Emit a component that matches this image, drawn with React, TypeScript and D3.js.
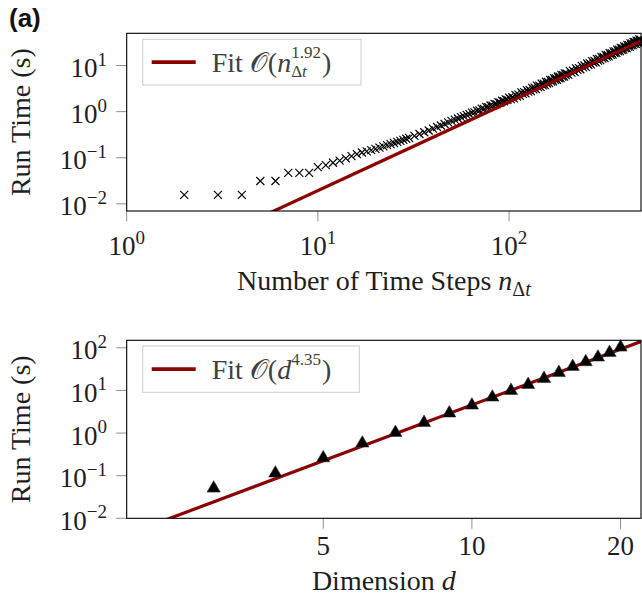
import { useEffect, useRef } from "react";
import * as d3 from "d3";

const W = 642;
const H = 602;

// ---- panel 1: run time vs number of time steps ----
const STEP_COUNTS = [
  2, 3, 4, 5, 6, 7, 8, 9, 10, 11, 12, 13, 14, 15, 16, 17, 18, 19, 20, 21, 22, 23, 24, 25, 26, 27, 28, 29, 30,
  32, 34, 36, 38, 40, 42, 44, 46, 48, 50, 52, 54, 56, 58, 60,
  62, 64, 66, 68, 70, 72, 74, 76, 78, 80, 82, 84, 86, 88, 90, 92, 94, 96, 98,
  100, 102, 104, 106, 108, 110, 112, 114, 116, 118, 120, 122, 124, 126, 128, 130, 132, 134, 136, 138,
  140, 142, 144, 146, 148, 150, 152, 154, 156, 158, 160, 162, 164, 166, 168, 170, 172, 174, 176, 178,
  180, 182, 184, 186, 188, 190, 192, 194, 196, 198, 200,
  204, 208, 212, 216, 220, 224, 228, 232, 236, 240, 244, 248, 252, 256, 260, 264, 268, 272, 276, 280,
  284, 288, 292, 296, 300, 304, 308, 312, 316, 320, 324, 328, 332, 336, 340, 344, 348, 352, 356, 360,
  364, 368, 372, 376, 380, 384, 388, 392, 396, 400, 404, 408, 412, 416, 420, 424, 428, 432, 436, 440,
  444, 448, 452, 456, 460, 464, 468, 472, 476, 480, 484, 488,
];
const STEP_TIMES = [
  0.0156, 0.0156, 0.0156, 0.0313, 0.0313, 0.0469, 0.0469, 0.0469,
  0.0625, 0.069, 0.078, 0.087, 0.097, 0.108, 0.12, 0.13, 0.137, 0.146, 0.156, 0.166, 0.176, 0.187,
  0.198, 0.209, 0.221, 0.233, 0.245, 0.258, 0.271,
  0.298, 0.327, 0.357, 0.39, 0.43, 0.465, 0.5, 0.54, 0.585, 0.63, 0.67, 0.71, 0.76, 0.8, 0.85,
  0.88, 0.95, 0.96, 1.05, 1.06, 1.16, 1.15, 1.26, 1.25, 1.36, 1.35, 1.48, 1.46, 1.6, 1.57, 1.72, 1.68,
  1.85, 1.8,
  2.01, 1.87, 2.05, 1.94, 2.3, 2.13, 2.34, 2.2, 2.61, 2.42, 2.64, 2.48, 2.94, 2.71, 2.97, 2.78, 3.29, 3.03,
  3.31, 3.1, 3.66, 3.36, 3.67, 3.43, 4.04, 3.72, 4.04, 3.77, 4.45, 4.08, 4.44, 4.14, 4.87, 4.47, 4.85,
  4.52, 5.31, 4.87, 5.28, 4.92, 5.78, 5.29, 5.74, 5.33, 6.26, 5.73, 6.2, 5.77, 6.76, 6.18, 6.69,
  6.33, 7.55, 7.02, 7.72, 7.28, 8.67, 8.04, 8.82, 8.3, 9.86, 9.13, 10.0, 9.39, 11.13, 10.28, 11.25,
  10.55, 12.48, 11.51, 12.57, 11.77, 13.9, 12.81, 13.96, 13.06, 15.4, 14.17, 15.43, 14.41, 16.98,
  15.6, 16.97, 15.83, 18.64, 17.1, 18.58, 17.32, 20.37, 18.67, 20.27, 18.88, 22.18, 20.31, 22.03,
  20.5, 24.06, 22.02, 23.86, 22.19, 26.02, 23.8, 25.77, 23.94, 28.06, 25.64, 27.75, 25.76, 30.18,
  27.56, 29.8, 27.65, 32.37, 29.54, 31.93, 29.6, 34.63, 31.59, 34.12, 31.62, 36.98, 33.71, 36.4,
];
const STEP_FIT = { coef: 0.000233, exp: 1.92, label: "1.92" };
const STEP_X_TICKS = [1, 10, 100];
const STEP_Y_TICKS = [0.01, 0.1, 1, 10];

// ---- panel 2: run time vs dimension ----
const DIMS = [3, 4, 5, 6, 7, 8, 9, 10, 11, 12, 13, 14, 15, 16, 17, 18, 19, 20];
const DIM_TIMES = [
  0.0506, 0.114, 0.26, 0.577, 1.02, 1.75, 2.92, 4.49, 6.92, 9.89, 13.7, 18.9, 26.2, 36.2, 46.7, 60.1, 77.1, 103,
];
const DIM_FIT = { coef: 0.000204, exp: 4.35, label: "4.35" };
const DIM_X_TICKS = [5, 10, 20];
const DIM_Y_TICKS = [0.01, 0.1, 1, 10, 100];

const SERIF = "'Liberation Serif', 'DejaVu Serif', serif";
const RED = "#8b0000";
const INK = "#1e1e1e";
const TICK = "#8f8f8f";

const LEFT = 126.7;
const RIGHT = 641;

type Sel = d3.Selection<any, unknown, null, undefined>;

function powLabel(g: Sel, x: number, y: number, v: number, anchor: string) {
  const e = Math.round(Math.log10(v));
  const t = g
    .append("text")
    .attr("x", x)
    .attr("y", y)
    .attr("text-anchor", anchor)
    .attr("font-size", 27)
    .attr("fill", INK);
  t.append("tspan").text("10");
  t.append("tspan")
    .attr("dy", -11.5)
    .attr("font-size", 19)
    .text(e < 0 ? "\u2212" + -e : String(e));
}

const textW = (s: Sel) => (s.node() as SVGTextContentElement).getComputedTextLength();

export default function App() {
  const ref = useRef<SVGSVGElement>(null);

  useEffect(() => {
    const svg = d3.select(ref.current);
    svg.selectAll("*").remove();
    svg.attr("font-family", SERIF);

    /* -------- (a) tag -------- */
    svg
      .append("text")
      .attr("x", 9)
      .attr("y", 27)
      .attr("font-family", "'Liberation Sans', Arial, sans-serif")
      .attr("font-weight", "bold")
      .attr("font-size", 26)
      .attr("fill", "#111")
      .text("(a)");

    const panels = [
      {
        id: "p1",
        top: 33.3,
        bottom: 211,
        x: d3.scaleLog().domain([1, 490]).range([LEFT, RIGHT]),
        y: d3.scaleLog().domain([0.007, 50]).range([211, 33.3]),
        xs: STEP_COUNTS,
        ys: STEP_TIMES,
        fit: STEP_FIT,
        fitOnTop: true,
        xTicks: STEP_X_TICKS,
        yTicks: STEP_Y_TICKS,
        logX: true,
        marker: "cross",
        legend: { x: 142.7, y: 39.3, w: 218.3, h: 45.7, sym: "n", sub: true },
        xTitle: ["Number of Time Steps ", "n", true],
        xTitleY: 290,
        xTickY: 255,
      },
      {
        id: "p2",
        top: 340.3,
        bottom: 518.3,
        x: d3.scaleLog().domain([2, 22]).range([LEFT, RIGHT]),
        y: d3.scaleLog().domain([0.01, 150]).range([518.3, 340.3]),
        xs: DIMS,
        ys: DIM_TIMES,
        fit: DIM_FIT,
        fitOnTop: false,
        xTicks: DIM_X_TICKS,
        yTicks: DIM_Y_TICKS,
        logX: false,
        marker: "tri",
        legend: { x: 142.7, y: 346, w: 216.6, h: 46.3, sym: "d", sub: false },
        xTitle: ["Dimension ", "d", false],
        xTitleY: 590,
        xTickY: 555,
      },
    ];

    panels.forEach((p) => {
      const g = svg.append("g");
      const [x0, x1] = p.x.domain();

      svg
        .append("defs")
        .append("clipPath")
        .attr("id", "clip-" + p.id)
        .append("rect")
        .attr("x", LEFT)
        .attr("y", p.top)
        .attr("width", RIGHT - LEFT)
        .attr("height", p.bottom - p.top);

      // ticks (outside, grey)
      p.yTicks.forEach((v) => {
        const yy = p.y(v);
        g.append("line")
          .attr("x1", LEFT - 10.5)
          .attr("x2", LEFT)
          .attr("y1", yy)
          .attr("y2", yy)
          .attr("stroke", TICK)
          .attr("stroke-width", 1);
        powLabel(g, 107, yy + 11.5, v, "end");
      });
      p.xTicks.forEach((v) => {
        const xx = p.x(v);
        g.append("line")
          .attr("x1", xx)
          .attr("x2", xx)
          .attr("y1", p.bottom)
          .attr("y2", p.bottom + 10.5)
          .attr("stroke", TICK)
          .attr("stroke-width", 1);
        if (p.logX) powLabel(g, xx, p.xTickY, v, "middle");
        else
          g.append("text")
            .attr("x", xx)
            .attr("y", p.xTickY)
            .attr("text-anchor", "middle")
            .attr("font-size", 27)
            .attr("fill", INK)
            .text(String(v));
      });

      // fit line + markers
      const fitY = (v: number) => p.fit.coef * Math.pow(v, p.fit.exp);
      const drawFit = () =>
        g
          .append("path")
          .attr("clip-path", `url(#clip-${p.id})`)
          .attr("d", d3.line<number>().x((v) => p.x(v)).y((v) => p.y(fitY(v)))([x0, x1]))
          .attr("fill", "none")
          .attr("stroke", RED)
          .attr("stroke-width", 3.2);

      if (!p.fitOnTop) drawFit();
      const pts = p.xs.map((v, i) => [p.x(v), p.y(p.ys[i])]);
      const mk = g.append("g");
      if (p.marker === "cross") {
        mk.selectAll("path")
          .data(pts)
          .join("path")
          .attr("transform", (d) => `translate(${d[0]},${d[1]})`)
          .attr("d", "M-4,-4L4,4M-4,4L4,-4")
          .attr("stroke", "#000")
          .attr("stroke-width", 1.15)
          .attr("fill", "none");
      } else {
        mk.selectAll("path")
          .data(pts)
          .join("path")
          .attr("transform", (d) => `translate(${d[0]},${d[1]})`)
          .attr("d", "M0,-7.6L6.6,3.8L-6.6,3.8Z")
          .attr("fill", "#000")
          .attr("stroke", "#333")
          .attr("stroke-width", 0.6);
      }
      if (p.fitOnTop) drawFit();

      // frame
      g.append("rect")
        .attr("x", LEFT)
        .attr("y", p.top)
        .attr("width", RIGHT - LEFT)
        .attr("height", p.bottom - p.top)
        .attr("fill", "none")
        .attr("stroke", "#000")
        .attr("stroke-width", 1.1);

      // legend
      const L = p.legend;
      g.append("rect")
        .attr("x", L.x)
        .attr("y", L.y)
        .attr("width", L.w)
        .attr("height", L.h)
        .attr("fill", "#fff")
        .attr("stroke", "#cccccc")
        .attr("stroke-width", 1);
      const ly = L.y + L.h / 2;
      g.append("line")
        .attr("x1", L.x + 9)
        .attr("x2", L.x + 53)
        .attr("y1", ly)
        .attr("y2", ly)
        .attr("stroke", RED)
        .attr("stroke-width", 3.6);
      const lt = g
        .append("text")
        .attr("x", L.x + 69)
        .attr("y", ly + 9.5)
        .attr("font-size", 28)
        .attr("fill", "#404040");
      lt.append("tspan").text("Fit \u{1D4AA}(");
      lt.append("tspan").attr("font-style", "italic").text(L.sym);
      const sup = lt.append("tspan").attr("dy", -14).attr("font-size", 17).text(p.fit.label);
      if (L.sub) {
        const supW = textW(sup);
        const s1 = lt.append("tspan").attr("dx", -supW).attr("dy", 19).attr("font-size", 17).text("\u0394");
        const s2 = lt.append("tspan").attr("font-size", 17).attr("font-style", "italic").text("t");
        const subW = textW(s1) + textW(s2);
        lt.append("tspan").attr("dx", Math.max(0, supW - subW) + 1).attr("dy", -5).text(")");
      } else {
        lt.append("tspan").attr("dx", 1).attr("dy", 14).text(")");
      }

      // axis titles
      const cx = (LEFT + RIGHT) / 2;
      const xt = g
        .append("text")
        .attr("x", cx)
        .attr("y", p.xTitleY)
        .attr("text-anchor", "middle")
        .attr("font-size", 28)
        .attr("fill", INK);
      xt.append("tspan").text(p.xTitle[0] as string);
      xt.append("tspan").attr("font-style", "italic").text(p.xTitle[1] as string);
      if (p.xTitle[2]) {
        xt.append("tspan").attr("dy", 6).attr("font-size", 20).text("\u0394");
        xt.append("tspan").attr("font-size", 20).attr("font-style", "italic").text("t");
      }

      g.append("text")
        .attr("transform", `translate(29.5,${(p.top + p.bottom) / 2}) rotate(-90)`)
        .attr("text-anchor", "middle")
        .attr("font-size", 28)
        .attr("fill", INK)
        .text("Run Time (s)");
    });
  }, []);

  return (
    <svg
      ref={ref}
      width={W}
      height={H}
      style={{ position: "absolute", left: 0, top: 0, background: "#fff" }}
    />
  );
}
